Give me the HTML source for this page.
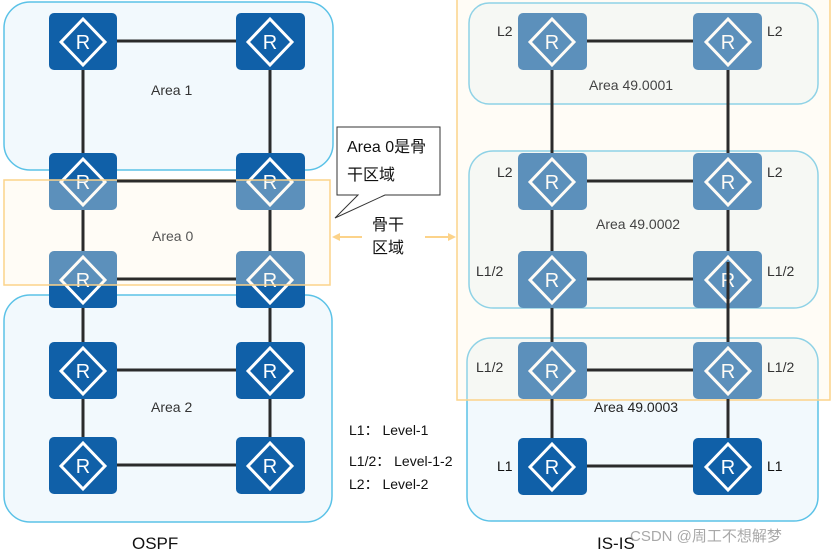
<!DOCTYPE html>
<html><head><meta charset="utf-8"><style>
html,body{margin:0;padding:0;background:#fff;}
svg{display:block;font-family:"Liberation Sans","Noto Sans CJK SC",sans-serif;}
</style></head><body>
<svg width="836" height="553" viewBox="0 0 836 553" xmlns="http://www.w3.org/2000/svg">
<!-- area boxes -->
<rect x="4" y="2" width="329" height="168" rx="26" fill="#f2f9fd" stroke="#5bc2e7" stroke-width="1.5"/>
<rect x="4" y="295" width="328" height="227" rx="26" fill="#f2f9fd" stroke="#5bc2e7" stroke-width="1.5"/>
<rect x="469" y="3" width="349" height="101" rx="20" fill="#f2f9fd" stroke="#5bc2e7" stroke-width="1.5"/>
<rect x="469" y="151" width="349" height="157" rx="24" fill="#f2f9fd" stroke="#5bc2e7" stroke-width="1.5"/>
<rect x="467" y="338" width="351" height="183" rx="24" fill="#f2f9fd" stroke="#5bc2e7" stroke-width="1.5"/>
<!-- routers -->
<g fill="#1060a8">
<rect x="49" y="13" width="68" height="57" rx="5"/>
<rect x="236" y="13" width="69" height="57" rx="5"/>
<rect x="49" y="153" width="68" height="57" rx="5"/>
<rect x="236" y="153" width="69" height="57" rx="5"/>
<rect x="49" y="251" width="68" height="57" rx="5"/>
<rect x="236" y="251" width="69" height="57" rx="5"/>
<rect x="49" y="342" width="68" height="57" rx="5"/>
<rect x="236" y="342" width="69" height="57" rx="5"/>
<rect x="49" y="437" width="68" height="57" rx="5"/>
<rect x="236" y="437" width="69" height="57" rx="5"/>
<rect x="518" y="13" width="69" height="57" rx="5"/>
<rect x="693" y="13" width="69" height="57" rx="5"/>
<rect x="518" y="153" width="69" height="57" rx="5"/>
<rect x="693" y="153" width="69" height="57" rx="5"/>
<rect x="518" y="251" width="69" height="57" rx="5"/>
<rect x="693" y="251" width="69" height="57" rx="5"/>
<rect x="518" y="342" width="69" height="57" rx="5"/>
<rect x="693" y="342" width="69" height="57" rx="5"/>
<rect x="518" y="438" width="69" height="57" rx="5"/>
<rect x="693" y="438" width="69" height="57" rx="5"/>
</g>
<g fill="none" stroke="#fff" stroke-width="3">
<path d="M83 19 L105 42 L83 65 L61 42 Z"/>
<path d="M270 19 L292 42 L270 65 L248 42 Z"/>
<path d="M83 159 L105 182 L83 205 L61 182 Z"/>
<path d="M270 159 L292 182 L270 205 L248 182 Z"/>
<path d="M83 257 L105 280 L83 303 L61 280 Z"/>
<path d="M270 257 L292 280 L270 303 L248 280 Z"/>
<path d="M83 348 L105 371 L83 394 L61 371 Z"/>
<path d="M270 348 L292 371 L270 394 L248 371 Z"/>
<path d="M83 443 L105 466 L83 489 L61 466 Z"/>
<path d="M270 443 L292 466 L270 489 L248 466 Z"/>
<path d="M552 19 L574 42 L552 65 L530 42 Z"/>
<path d="M728 19 L750 42 L728 65 L706 42 Z"/>
<path d="M552 159 L574 182 L552 205 L530 182 Z"/>
<path d="M728 159 L750 182 L728 205 L706 182 Z"/>
<path d="M552 257 L574 280 L552 303 L530 280 Z"/>
<path d="M728 257 L750 280 L728 303 L706 280 Z"/>
<path d="M552 348 L574 371 L552 394 L530 371 Z"/>
<path d="M728 348 L750 371 L728 394 L706 371 Z"/>
<path d="M552 444 L574 467 L552 490 L530 467 Z"/>
<path d="M728 444 L750 467 L728 490 L706 467 Z"/>
</g>
<g fill="#fff" font-size="20" text-anchor="middle">
<text x="83" y="49">R</text><text x="270" y="49">R</text>
<text x="83" y="189">R</text><text x="270" y="189">R</text>
<text x="83" y="287">R</text><text x="270" y="287">R</text>
<text x="83" y="378">R</text><text x="270" y="378">R</text>
<text x="83" y="473">R</text><text x="270" y="473">R</text>
<text x="552" y="49">R</text><text x="728" y="49">R</text>
<text x="552" y="189">R</text><text x="728" y="189">R</text>
<text x="552" y="287">R</text><text x="728" y="287">R</text>
<text x="552" y="378">R</text><text x="728" y="378">R</text>
<text x="552" y="474">R</text><text x="728" y="474">R</text>
</g>
<!-- orange overlays -->
<rect x="4" y="180" width="326" height="105" fill="#fff6e4" fill-opacity="0.32" stroke="#fcd38a" stroke-width="1.5"/>
<rect x="457" y="-2" width="373" height="402" fill="#fff6e4" fill-opacity="0.32" stroke="#fcd38a" stroke-width="1.5"/>
<!-- links (drawn between routers, on top) -->
<g stroke="#2b2b2b" stroke-width="3" fill="none">
<path d="M83 70V153M83 210V251M83 308V342M83 399V437"/>
<path d="M270 70V153M270 210V251M270 308V342M270 399V437"/>
<path d="M117 41H236M117 181H236M117 279H236M117 370H236M117 465H236"/>
<path d="M552 70V153M552 210V251M552 308V342M552 399V438"/>
<path d="M728 70V153M728 210V251M728 262V342M728 399V438"/>
<path d="M587 41H693M587 181H693M587 279H693M587 370H693M587 466H693"/>
</g>
<!-- callout -->
<path d="M337 127 H440 V195 H385 L335 218 L358 195 H337 Z" fill="#fff" stroke="#333" stroke-width="1"/>
<text x="347" y="152" font-size="16" fill="#111">Area 0是骨</text>
<text x="347" y="180" font-size="16" fill="#111">干区域</text>
<text x="372" y="230" font-size="16" fill="#111">骨干</text>
<text x="372" y="253" font-size="16" fill="#111">区域</text>
<g stroke="#fcd38a" stroke-width="2" fill="#fcd38a">
<line x1="338" y1="237" x2="362" y2="237"/>
<path d="M332 237 L340 233 L340 241 Z" stroke="none"/>
<line x1="425" y1="237" x2="450" y2="237"/>
<path d="M456 237 L448 233 L448 241 Z" stroke="none"/>
</g>
<!-- labels -->
<g font-size="14" fill="#333">
<text x="151" y="95">Area 1</text>
<text x="152" y="241" fill="#555">Area 0</text>
<text x="151" y="412">Area 2</text>
<text x="589" y="90" fill="#444">Area 49.0001</text>
<text x="596" y="229" fill="#444">Area 49.0002</text>
<text x="594" y="412" fill="#222">Area 49.0003</text>
<text x="497" y="36">L2</text><text x="767" y="36">L2</text>
<text x="497" y="177">L2</text><text x="767" y="177">L2</text>
<text x="476" y="276">L1/2</text><text x="767" y="276">L1/2</text>
<text x="476" y="372">L1/2</text><text x="767" y="372">L1/2</text>
<text x="497" y="471" fill="#111">L1</text><text x="767" y="471" fill="#111">L1</text>
<text x="349" y="435" fill="#111">L1：  Level-1</text>
<text x="349" y="466" fill="#111">L1/2：  Level-1-2</text>
<text x="349" y="489" fill="#111">L2：  Level-2</text>
</g>
<text x="132" y="549" font-size="17" fill="#111">OSPF</text>
<text x="597" y="549" font-size="17" fill="#111">IS-IS</text>
<text x="630" y="541" font-size="15" fill="#999" fill-opacity="0.85">CSDN @周工不想解梦</text>
</svg>
</body></html>
